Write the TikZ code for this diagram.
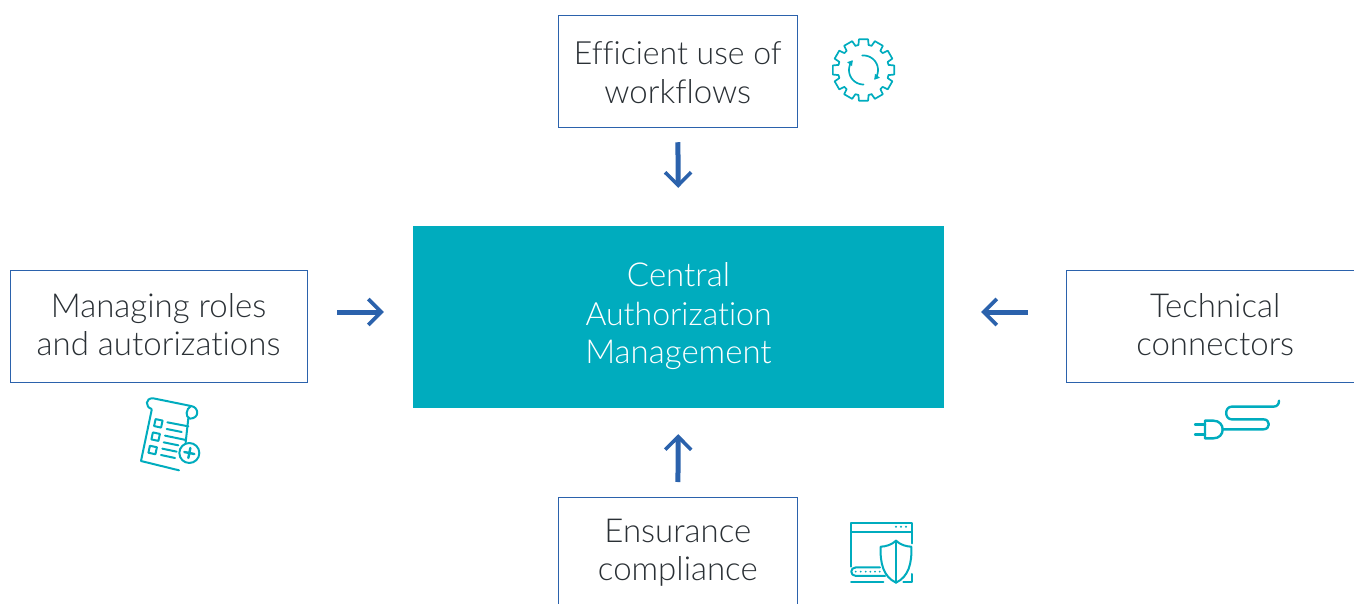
\documentclass[tikz,border=0pt]{standalone}
\usepackage{fontspec}
\setmainfont{Lato}[UprightFont=* Light,Ligatures=CommonOff]
\usetikzlibrary{arrows.meta}
\definecolor{tealc}{HTML}{00ACBE}
\definecolor{bluec}{HTML}{2B62AC}
\definecolor{textc}{HTML}{2A3035}
\tikzset{
 x=1pt,y=-1pt,
 boxn/.style={draw=bluec,line width=1pt,fill=white,minimum width=#1,minimum height=112.5pt,inner sep=0pt,align=center,text=textc,font=\txtf},
 centern/.style={fill=tealc,minimum width=531pt,minimum height=182pt,inner sep=0pt,align=center,text=white,font=\txtf},
 arr/.style={draw=bluec,line width=5pt,-{Straight Barb[length=13pt,width=26pt,line width=3.6pt]}},
 ico/.style={draw=tealc,line width=2pt,line cap=round,line join=round},
 zoomed/.style={shift={#1},x=0.3333pt,y=-0.3333pt},
}
\newcommand{\txtf}{\fontsize{33}{38.5}\selectfont}
\newcommand{\tops}[1]{\rule{0pt}{#1pt}}
\newcommand{\bots}[1]{\rule[-#1pt]{0pt}{0pt}}
\newcommand{\tight}[1]{{\fontsize{32}{38.5}\selectfont #1}}
\begin{document}
\begin{tikzpicture}
\useasboundingbox (0,0) rectangle (1354,604);
\clip (0,0) rectangle (1354,604);
\node[centern] (c) at (678.5,317) {\tops{27}Central\\\tight{Authorization}\\Management\bots{11}};
\node[boxn=239.5pt] (t) at (677.8,71.5) {\tops{32}\tight{Efficient use of}\\workflows\bots{6.5}};
\node[boxn=239.5pt,anchor=north] (b) at (677.8,497) {\tops{28}Ensurance\\compliance\bots{12.5}};
\node[boxn=297pt] (l) at (158.6,326.5) {\tops{26}Managing roles\\and autorizations\bots{6.5}};
\node[boxn=298pt,anchor=west] (r) at (1065.7,326.5) {\tops{26}Technical\\connectors\bots{6.5}};
\coordinate (my) at (0,312);
\draw[arr,shorten <=14pt,shorten >=38pt] (t.south) -- (c.north);
\draw[arr,shorten <=15pt,shorten >=26pt] (b.north) -- (c.south);
\draw[arr,shorten <=29.5pt,shorten >=29pt] (l.east |- my) -- (c.west |- my);
\draw[arr,shorten <=38pt,shorten >=37pt] (r.west |- my) -- (c.east |- my);
% gear icon
\begin{scope}[shift={(863.5,70)}]
\foreach \a in {0,30,...,330}{
 \draw[ico,line width=1.7pt] ({25.5*cos(\a-18.5)},{25.5*sin(\a-18.5)}) -- ({25.5*cos(\a-11.5)},{25.5*sin(\a-11.5)})
   -- ({31*cos(\a-8.5)},{31*sin(\a-8.5)}) -- ({31*cos(\a+8.5)},{31*sin(\a+8.5)})
   -- ({25.5*cos(\a+11.5)},{25.5*sin(\a+11.5)});
}
\draw[ico,line width=1.7pt,-{Triangle[length=5pt,width=6pt]}] plot[domain=-95:42,samples=25] ({14.5*cos(\x)},{14.5*sin(\x)});
\draw[ico,line width=1.7pt,-{Triangle[length=5pt,width=6pt]}] plot[domain=90:222,samples=25] ({14.5*cos(\x)},{14.5*sin(\x)});
\end{scope}
% document icon
\begin{scope}[zoomed={(125,385)}]
\draw[ico] (80,75) -- (48,228) -- (162,256);
\draw[ico] (190,100) -- (182,172);
\draw[ico] (80,72) .. controls (60,66) and (60,38) .. (85,40) -- (198,63) .. controls (222,66) and (225,100) .. (195,101) .. controls (180,96) and (182,72) .. (198,63);
\foreach \cx/\cy in {100/115,92/155,83/195}
  \draw[ico] (\cx-8.25,\cy-12.75) -- ++(21,4.5) -- ++(-4.5,21) -- ++(-21,-4.5) -- cycle;
\draw[ico] (127,112) -- (190,124) (125,132) -- (170,141) (120,152) -- (183,165) (116,172) -- (160,181) (112,191) -- (155,200) (108,210) -- (150,219);
\draw[ico,fill=white] (193,204) circle[radius=10pt];
\draw[ico,line width=2.4pt] (178,201) -- (208,207) (196,189) -- (190,219);
\end{scope}
% plug icon
\begin{scope}[zoomed={(1180,390)}]
\draw[ico,line width=2.4pt] (45,103) -- (75,103) (45,133) -- (75,133);
\draw[ico,line width=2.4pt] (75,92) -- (100,92) .. controls (118,92) and (128,105) .. (128,118) .. controls (128,133) and (118,145) .. (100,145) -- (75,145) -- cycle;
\draw[ico,line width=2.4pt] (128,118) -- (250,118) .. controls (272,118) and (272,88) .. (250,88) -- (155,88) .. controls (133,88) and (133,50) .. (155,50) -- (280,50) .. controls (292,50) and (297,42) .. (297,32);
\end{scope}
% shield icon
\begin{scope}[zoomed={(835,510)}]
\draw[ico] (48,170) -- (48,38) -- (230,38) -- (230,100) (48,65) -- (230,65) (48,215) -- (145,215) (205,215) -- (230,215) -- (230,192);
\foreach \xx in {183,198,213} \fill[tealc] (\xx,50) circle[radius=1.1pt];
\draw[ico] (135,172) -- (63,172) .. controls (44,172) and (44,198) .. (63,198) -- (150,198);
\foreach \xx in {62,77,92,106,120,134} \fill[tealc] (\xx,185) circle[radius=1pt];
\draw[ico,fill=white] (183,92) .. controls (170,105) and (150,110) .. (137,110) .. controls (135,160) and (145,200) .. (183,218) .. controls (221,200) and (231,160) .. (229,110) .. controls (216,110) and (196,105) .. (183,92) -- cycle;
\draw[ico] (183,92) -- (183,218);
\end{scope}
\end{tikzpicture}
\end{document}
